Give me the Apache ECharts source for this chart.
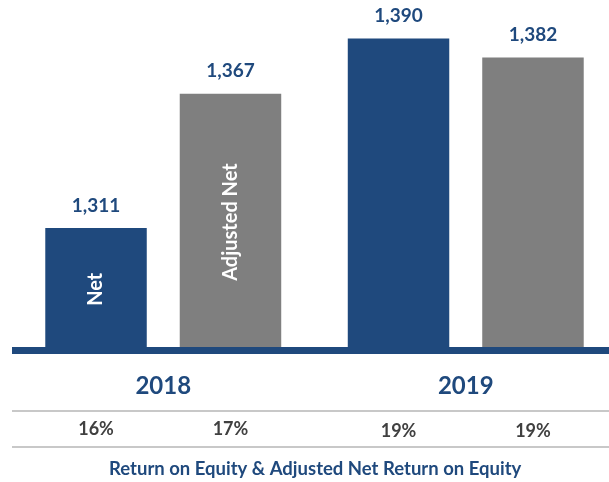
<!DOCTYPE html>
<html>
<head>
<meta charset="utf-8">
<script src="https://cdn.jsdelivr.net/npm/echarts@6/dist/echarts.min.js"></script>
<style>
  html, body { margin: 0; padding: 0; background: #fff; }
  #chart { width: 609px; height: 482px; }
</style>
</head>
<body>
<div id="chart"></div>
<script>
// data
var years = ['2018', '2019'];
var netValues = [1311, 1390];
var adjustedValues = [1367, 1382];
var netRoe = ['16%', '19%'];
var adjustedRoe = ['17%', '19%'];
var seriesNames = ['Net', 'Adjusted Net'];
var footTitle = 'Return on Equity & Adjusted Net Return on Equity';

var blue = '#1f497d';
var grey = '#7f7f7f';
var font = 'Lato';
var barGap = '32.5%';
var catGap = '22%';

var myChart = echarts.init(document.getElementById('chart'));

// same layout for the bars grid and the overlay grid with the series names
// (the bars run a little past the right edge, so no clamping to the canvas)
var mainGrid = { left: 12, width: 605, top: 0, bottom: 131.5, outerBoundsMode: 'none' };

function hiddenCat(idx) {
	return { type: 'category', data: years, gridIndex: idx, show: false };
}

function barSeries(name, values, color, axis) {
	return {
		name: name, type: 'bar', data: values, xAxisIndex: axis, yAxisIndex: axis,
		barGap: barGap, barCategoryGap: catGap,
		itemStyle: { color: color },
		label: {
			show: true, position: 'top', distance: 13,
			color: blue, fontFamily: font, fontWeight: 'bold', fontSize: 19,
			formatter: function (p) { return p.value.toLocaleString('en-US'); }
		}
	};
}

// transparent copy of the bars, only the first (2018) carries the series name
function nameSeries(name, values) {
	return {
		type: 'bar', xAxisIndex: 2, yAxisIndex: 2, silent: true,
		barGap: barGap, barCategoryGap: catGap,
		itemStyle: { color: 'transparent' },
		data: values.map(function (v, i) {
			return { value: v, label: { show: i === 0 } };
		}),
		label: {
			position: 'inside', rotate: 90, formatter: name,
			color: '#fff', fontFamily: font, fontWeight: 'bold', fontSize: 20
		}
	};
}

// percentages: second grid with the same category layout
function roeSeries(arr) {
	return {
		type: 'bar', xAxisIndex: 1, yAxisIndex: 1, silent: true,
		barGap: barGap, barCategoryGap: catGap,
		itemStyle: { color: 'transparent' },
		data: arr.map(function (t, i) {
			return { value: 1, name: t, label: { offset: [0, i * 2] } };
		}),
		label: {
			show: true, position: 'inside', formatter: '{b}',
			color: '#404040', fontFamily: font, fontWeight: 'bold', fontSize: 18
		}
	};
}

var option = {
	animation: false,
	title: {
		text: footTitle, left: 104, top: 455,
		textStyle: { color: blue, fontFamily: font, fontWeight: 'bold', fontSize: 18.5 }
	},
	grid: [
		mainGrid,
		{ left: 12, width: 605, top: 411, height: 36, outerBoundsMode: 'none' },
		mainGrid
	],
	xAxis: [{
		type: 'category', data: years, gridIndex: 0, z: 5,
		axisLine: { lineStyle: { color: blue, width: 7, cap: 'butt' } },
		axisTick: { show: false },
		axisLabel: { margin: 24, color: blue, fontFamily: font, fontWeight: 'bold', fontSize: 24 }
	}, hiddenCat(1), hiddenCat(2)],
	yAxis: [{
		type: 'value', min: 1260, max: 1406, gridIndex: 0, show: false
	}, {
		type: 'value', min: 0, max: 1, interval: 1, gridIndex: 1,
		axisLine: { show: false }, axisTick: { show: false }, axisLabel: { show: false },
		splitLine: { show: true, lineStyle: { color: '#c8c8c8', width: 2 } }
	}, {
		type: 'value', min: 1260, max: 1406, gridIndex: 2, show: false
	}],
	series: [
		barSeries(seriesNames[0], netValues, blue, 0),
		barSeries(seriesNames[1], adjustedValues, grey, 0),
		roeSeries(netRoe),
		roeSeries(adjustedRoe),
		nameSeries(seriesNames[0], netValues),
		nameSeries(seriesNames[1], adjustedValues)
	]
};

myChart.setOption(option);
</script>
</body>
</html>
